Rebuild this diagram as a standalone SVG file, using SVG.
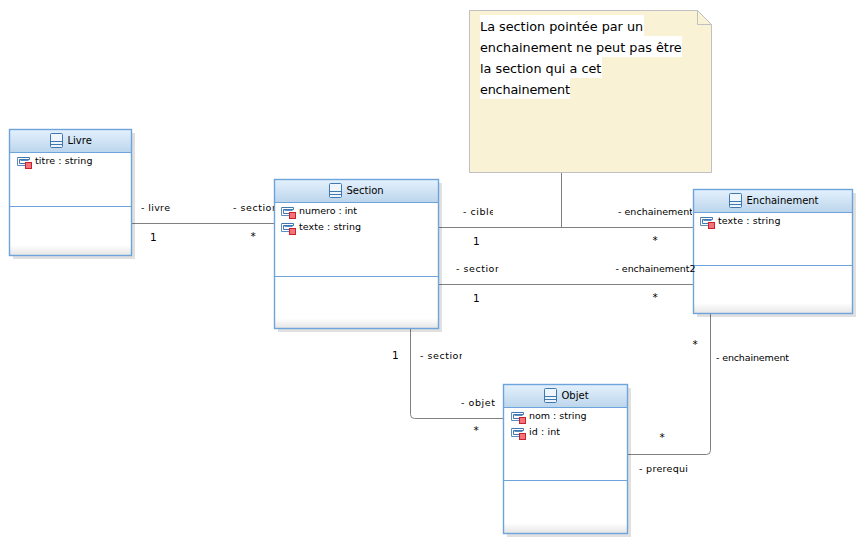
<svg xmlns="http://www.w3.org/2000/svg" width="866" height="548" viewBox="0 0 866 548">
<style>
text{font-family:"DejaVu Sans",sans-serif;fill:#000}
.t{font-size:9.5px}
.h{font-size:10px}
.l{font-size:9.5px}
.m{font-size:10.5px}
.n{font-size:12.8px}
.body{fill:#fff;stroke:none}
.frame{fill:none;stroke:#6da4dc;stroke-width:1.4}
.div{stroke:#6da4dc;stroke-width:1;fill:none}
.shadow{fill:#000;fill-opacity:.12}
.c{fill:none;stroke:#808080;stroke-width:1}
</style>
<defs>
<linearGradient id="hg" x1="0" y1="0" x2="0" y2="1"><stop offset="0" stop-color="#e4f1fd"/><stop offset="1" stop-color="#bcd5ec"/></linearGradient>
<linearGradient id="fg" x1="0" y1="0" x2="0" y2="1"><stop offset="0" stop-color="#fff"/><stop offset=".35" stop-color="#fff"/><stop offset="1" stop-color="#e6e6e6"/></linearGradient>
<symbol id="cls" width="13" height="15" viewBox="0 0 13 15" overflow="visible">
<rect x=".5" y=".5" width="12" height="14" rx="1" fill="#eef5fc" stroke="#3f77b0"/>
<path d="M.5 8.500H12.500M.5 11.500H12.500" stroke="#3f77b0" fill="none"/>
</symbol>
<symbol id="attr" width="16" height="13" viewBox="0 0 16 13" overflow="visible">
<path d="M.5 .5H12.500V2.500H2.500V6.500H8" fill="none" stroke="#3f77b0"/>
<path d="M.5 .5V8.500H8M3.500 3.500H11.500" fill="none" stroke="#5b8fc4"/>
<rect x="8.500" y="5.500" width="6" height="6" fill="#f4737a" stroke="#c8232c"/>
</symbol>
<clipPath id="c1"><rect x="225" y="195" width="49" height="20"/></clipPath>
<clipPath id="c2"><rect x="455" y="205" width="38" height="15"/></clipPath>
<clipPath id="c3"><rect x="450" y="262" width="48.500" height="15"/></clipPath>
<clipPath id="c4"><rect x="415" y="348" width="47" height="15"/></clipPath>
<clipPath id="c5"><rect x="610" y="205" width="82" height="15"/></clipPath>
</defs>

<g id="connectors">
<path class="c" d="M132 223.500H274"/>
<path class="c" d="M439 227.500H693"/>
<path class="c" d="M561.500 172.500V227.500"/>
<path class="c" d="M439 284.500H693"/>
<path class="c" d="M410.500 329V414.500Q410.500 418.500 414.500 418.500H503"/>
<path class="c" d="M710.500 314V450.500Q710.500 454.500 706.500 454.500H628"/>
<g id="connector-labels">
<text class="l" x="141" y="211" textLength="29">- livre</text>
<text class="m" x="150" y="241">1</text>
<text class="l" x="233" y="211" clip-path="url(#c1)" textLength="45">- section</text>
<text class="m" x="250.500" y="240">*</text>
<text class="l" x="463" y="215" clip-path="url(#c2)" textLength="32">- cible</text>
<text class="m" x="473" y="245">1</text>
<text class="l" x="618" y="215" clip-path="url(#c5)" textLength="75">- enchainement</text>
<text class="m" x="652.500" y="244">*</text>
<text class="l" x="456" y="272" clip-path="url(#c3)" textLength="45">- section</text>
<text class="m" x="473" y="302">1</text>
<text class="m" x="652.500" y="301">*</text>
<text class="m" x="392" y="359">1</text>
<text class="l" x="420" y="359" clip-path="url(#c4)" textLength="45">- section</text>
<text class="l" x="461" y="406" textLength="34">- objet</text>
<text class="m" x="473.500" y="434">*</text>
<text class="m" x="692.500" y="348">*</text>
<text class="l" x="716" y="361" textLength="73">- enchainement</text>
<text class="m" x="659.500" y="441">*</text>
<text class="l" x="639" y="472" textLength="49">- prerequi</text>
</g>
</g>

<g id="note">
<path d="M469.500 10.500H697.500L711.500 24.500V172.500H469.500Z" fill="#f9f2d5" stroke="#bfbfc4"/>
<path d="M697.500 10.500V24.500H711.500" fill="none" stroke="#bfbfc4"/>
<rect x="480" y="15" width="164" height="21" fill="#fff"/>
<rect x="480" y="36" width="202" height="21" fill="#fff"/>
<rect x="480" y="57" width="122" height="21" fill="#fff"/>
<rect x="480" y="78" width="90" height="21" fill="#fff"/>
<text class="n" x="480" y="31">La section pointée par un</text>
<text class="n" x="480" y="52">enchainement ne peut pas être</text>
<text class="n" x="480" y="73">la section qui a cet</text>
<text class="n" x="480" y="94" textLength="90">enchainement</text>
</g>

<g id="node-livre">
<rect class="shadow" x="13" y="133" width="122" height="126"/>
<rect class="body" x="9.500" y="129.500" width="122" height="126"/>
<rect x="9.500" y="129.500" width="122" height="23" fill="url(#hg)"/>
<rect x="10" y="240" width="121" height="15" fill="url(#fg)"/>
<rect class="frame" x="9.500" y="129.500" width="122" height="126"/>
<path class="div" d="M10 152.500H131M10 206.500H131"/>
<use href="#cls" x="50" y="133"/>
<text class="h" x="67.500" y="144">Livre</text>
<use href="#attr" x="17" y="157"/>
<text class="t" x="35" y="164" textLength="57.500">titre : string</text>
</g>

<g id="node-section">
<rect class="shadow" x="278" y="183" width="164" height="149"/>
<rect class="body" x="274.500" y="179.500" width="164" height="149"/>
<rect x="274.500" y="179.500" width="164" height="23" fill="url(#hg)"/>
<rect x="275" y="313" width="163" height="15" fill="url(#fg)"/>
<rect class="frame" x="274.500" y="179.500" width="164" height="149"/>
<path class="div" d="M275 202.500H438M275 276.500H438"/>
<use href="#cls" x="329" y="183"/>
<text class="h" x="346.500" y="194">Section</text>
<use href="#attr" x="281" y="207"/>
<text class="t" x="299" y="214" textLength="58">numero : int</text>
<use href="#attr" x="281" y="223"/>
<text class="t" x="299" y="230" textLength="62">texte : string</text>
</g>

<g id="node-enchainement">
<rect class="shadow" x="697" y="193" width="159" height="124"/>
<rect class="body" x="693.500" y="189.500" width="159" height="124"/>
<rect x="693.500" y="189.500" width="159" height="23" fill="url(#hg)"/>
<rect x="694" y="298" width="158" height="15" fill="url(#fg)"/>
<rect class="frame" x="693.500" y="189.500" width="159" height="124"/>
<path class="div" d="M694 212.500H852M694 265.500H852"/>
<use href="#cls" x="729" y="193"/>
<text class="h" x="746.500" y="204">Enchainement</text>
<use href="#attr" x="700" y="217"/>
<text class="t" x="718" y="224" textLength="62.500">texte : string</text>
</g>

<g id="node-objet">
<rect class="shadow" x="507" y="388" width="124" height="149"/>
<rect class="body" x="503.500" y="384.500" width="124" height="149"/>
<rect x="503.500" y="384.500" width="124" height="23" fill="url(#hg)"/>
<rect x="504" y="518" width="123" height="15" fill="url(#fg)"/>
<rect class="frame" x="503.500" y="384.500" width="124" height="149"/>
<path class="div" d="M504 407.500H627M504 480.500H627"/>
<use href="#cls" x="544" y="388"/>
<text class="h" x="561.500" y="399">Objet</text>
<use href="#attr" x="511" y="412"/>
<text class="t" x="529" y="419" textLength="57.500">nom : string</text>
<use href="#attr" x="511" y="428"/>
<text class="t" x="529" y="435" textLength="31">id : int</text>
</g>

<g id="connector-label-top">
<text class="l" x="615.500" y="272" textLength="80">- enchainement2</text>
</g>
</svg>
